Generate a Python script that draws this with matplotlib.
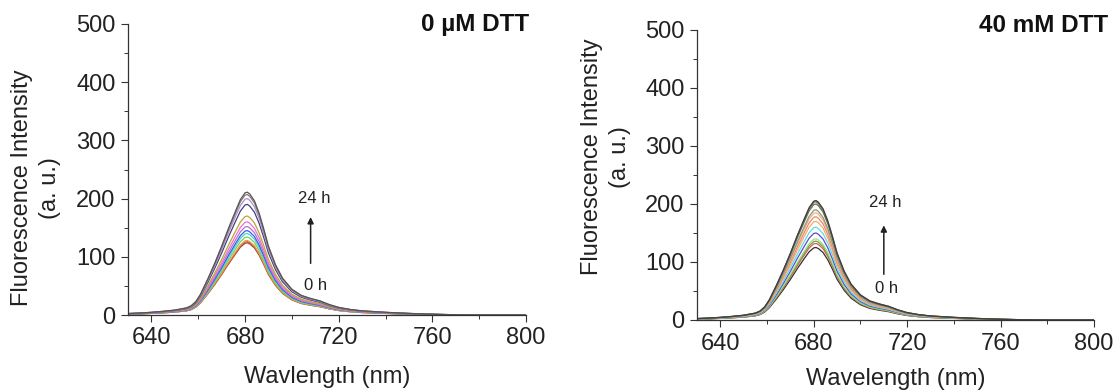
import matplotlib
matplotlib.use("Agg")
import numpy as np
from matplotlib import pyplot as plt
from matplotlib.ticker import MultipleLocator

plt.rcParams['font.family'] = ['Liberation Sans', 'DejaVu Sans']

# emission spectrum shape (normalised to peak) on a wavelength grid
wavelength = [630, 635, 640, 645, 650, 655, 657, 659, 661, 664, 667, 670, 673,
              676, 678, 680, 681, 682, 684, 686, 688, 690, 693, 696, 700, 704,
              708, 712, 716, 720, 725, 730, 740, 750, 760, 770, 780, 790, 800]
profile = [0.012, 0.016, 0.022, 0.030, 0.040, 0.058, 0.075, 0.110, 0.170, 0.290,
           0.420, 0.560, 0.710, 0.850, 0.940, 0.995, 1.000, 0.985, 0.930, 0.830,
           0.700, 0.560, 0.410, 0.300, 0.210, 0.160, 0.135, 0.115, 0.085, 0.062,
           0.045, 0.034, 0.022, 0.013, 0.006, 0.002, 0.0, 0.0, 0.0]

# peak intensities, 0 h -> 24 h
peaks_0uM = [124, 126, 128, 134, 140, 145, 152, 160, 170, 190, 200, 207, 211]
colors_0uM = ['#8b4a3a', '#e0504a', '#e0a040', '#7ccf5a', '#4ad0e0', '#3a5fd0',
              '#b070e0', '#f070d0', '#b8a830', '#404080', '#b090d0', '#8a7a70', '#555555']

peaks_40mM = [125, 132, 136, 140, 150, 160, 170, 178, 185, 190, 200, 204, 206]
colors_40mM = ['#303030', '#e05a5a', '#70a040', '#a0e080', '#5050d0', '#60d8f0',
               '#f0b060', '#f08080', '#e0c060', '#909090', '#707040', '#606060', '#404040']

W, H = 1116, 390

panels = [
    dict(peaks=peaks_0uM, colors=colors_0uM, title='0 µM DTT', xlab='Wavlength (nm)',
         box=(128, 24, 526, 315), title_xy=(1.0075, 0.997), ylab_xy=(36, 188),
         xlab_y=-0.175, arrow=(708, 84, 173), top=(709.5, 201), bot=(710, 50)),
    dict(peaks=peaks_40mM, colors=colors_40mM, title='40 mM DTT', xlab='Wavelength (nm)',
         box=(697, 30, 1094, 320), title_xy=(1.035, 1.017), ylab_xy=(606, 157),
         xlab_y=-0.165, arrow=(710, 74, 168), top=(710.5, 203), bot=(711, 55)),
]

fig = plt.figure(figsize=(W / 100, H / 100), dpi=100)
x = np.array(wavelength)
shape = np.array(profile)

for p in panels:
    x0, y0, x1, y1 = p['box']
    ax = fig.add_axes([x0 / W, 1 - y1 / H, (x1 - x0) / W, (y1 - y0) / H])
    for pk, c in zip(p['peaks'], p['colors']):
        ax.plot(x, shape * pk, color=c, linewidth=0.9)
    ax.set_xlim(630, 800)
    ax.set_ylim(0, 500)
    ax.xaxis.set_major_locator(MultipleLocator(40))
    ax.xaxis.set_minor_locator(MultipleLocator(20))
    ax.yaxis.set_major_locator(MultipleLocator(100))
    ax.yaxis.set_minor_locator(MultipleLocator(50))
    for s in ['top', 'right']:
        ax.spines[s].set_visible(False)
    for s in ['left', 'bottom']:
        ax.spines[s].set_color('#333333')
        ax.spines[s].set_linewidth(0.9)
    ax.tick_params(which='major', direction='out', length=5, width=0.8, pad=4,
                   labelsize=17, colors='#333333', labelcolor='#222222')
    ax.tick_params(which='minor', direction='out', length=3, width=0.7, colors='#333333')
    ax.set_xlabel(p['xlab'], fontsize=17, color='#222222', va='top')
    ax.xaxis.set_label_coords(0.5, p['xlab_y'])
    fig.text(p['ylab_xy'][0] / W, 1 - p['ylab_xy'][1] / H,
             'Fluorescence Intensity\n(a. u.)', rotation=90, ha='center', va='center',
             multialignment='center', fontsize=17, color='#222222', linespacing=1.3)
    ax.text(p['title_xy'][0], p['title_xy'][1], p['title'], transform=ax.transAxes,
            ha='right', va='center', fontsize=17.5, fontweight='bold', color='#111111')
    ax.annotate('', xy=(p['arrow'][0], p['arrow'][2]), xytext=(p['arrow'][0], p['arrow'][1]),
                arrowprops=dict(arrowstyle='-|>', color='#222222', lw=1.1,
                                mutation_scale=9))
    ax.text(p['top'][0], p['top'][1], '24 h', ha='center', va='center',
            fontsize=12, color='#222222')
    ax.text(p['bot'][0], p['bot'][1], '0 h', ha='center', va='center',
            fontsize=12, color='#222222')

fig.savefig('out.png', dpi=100)
